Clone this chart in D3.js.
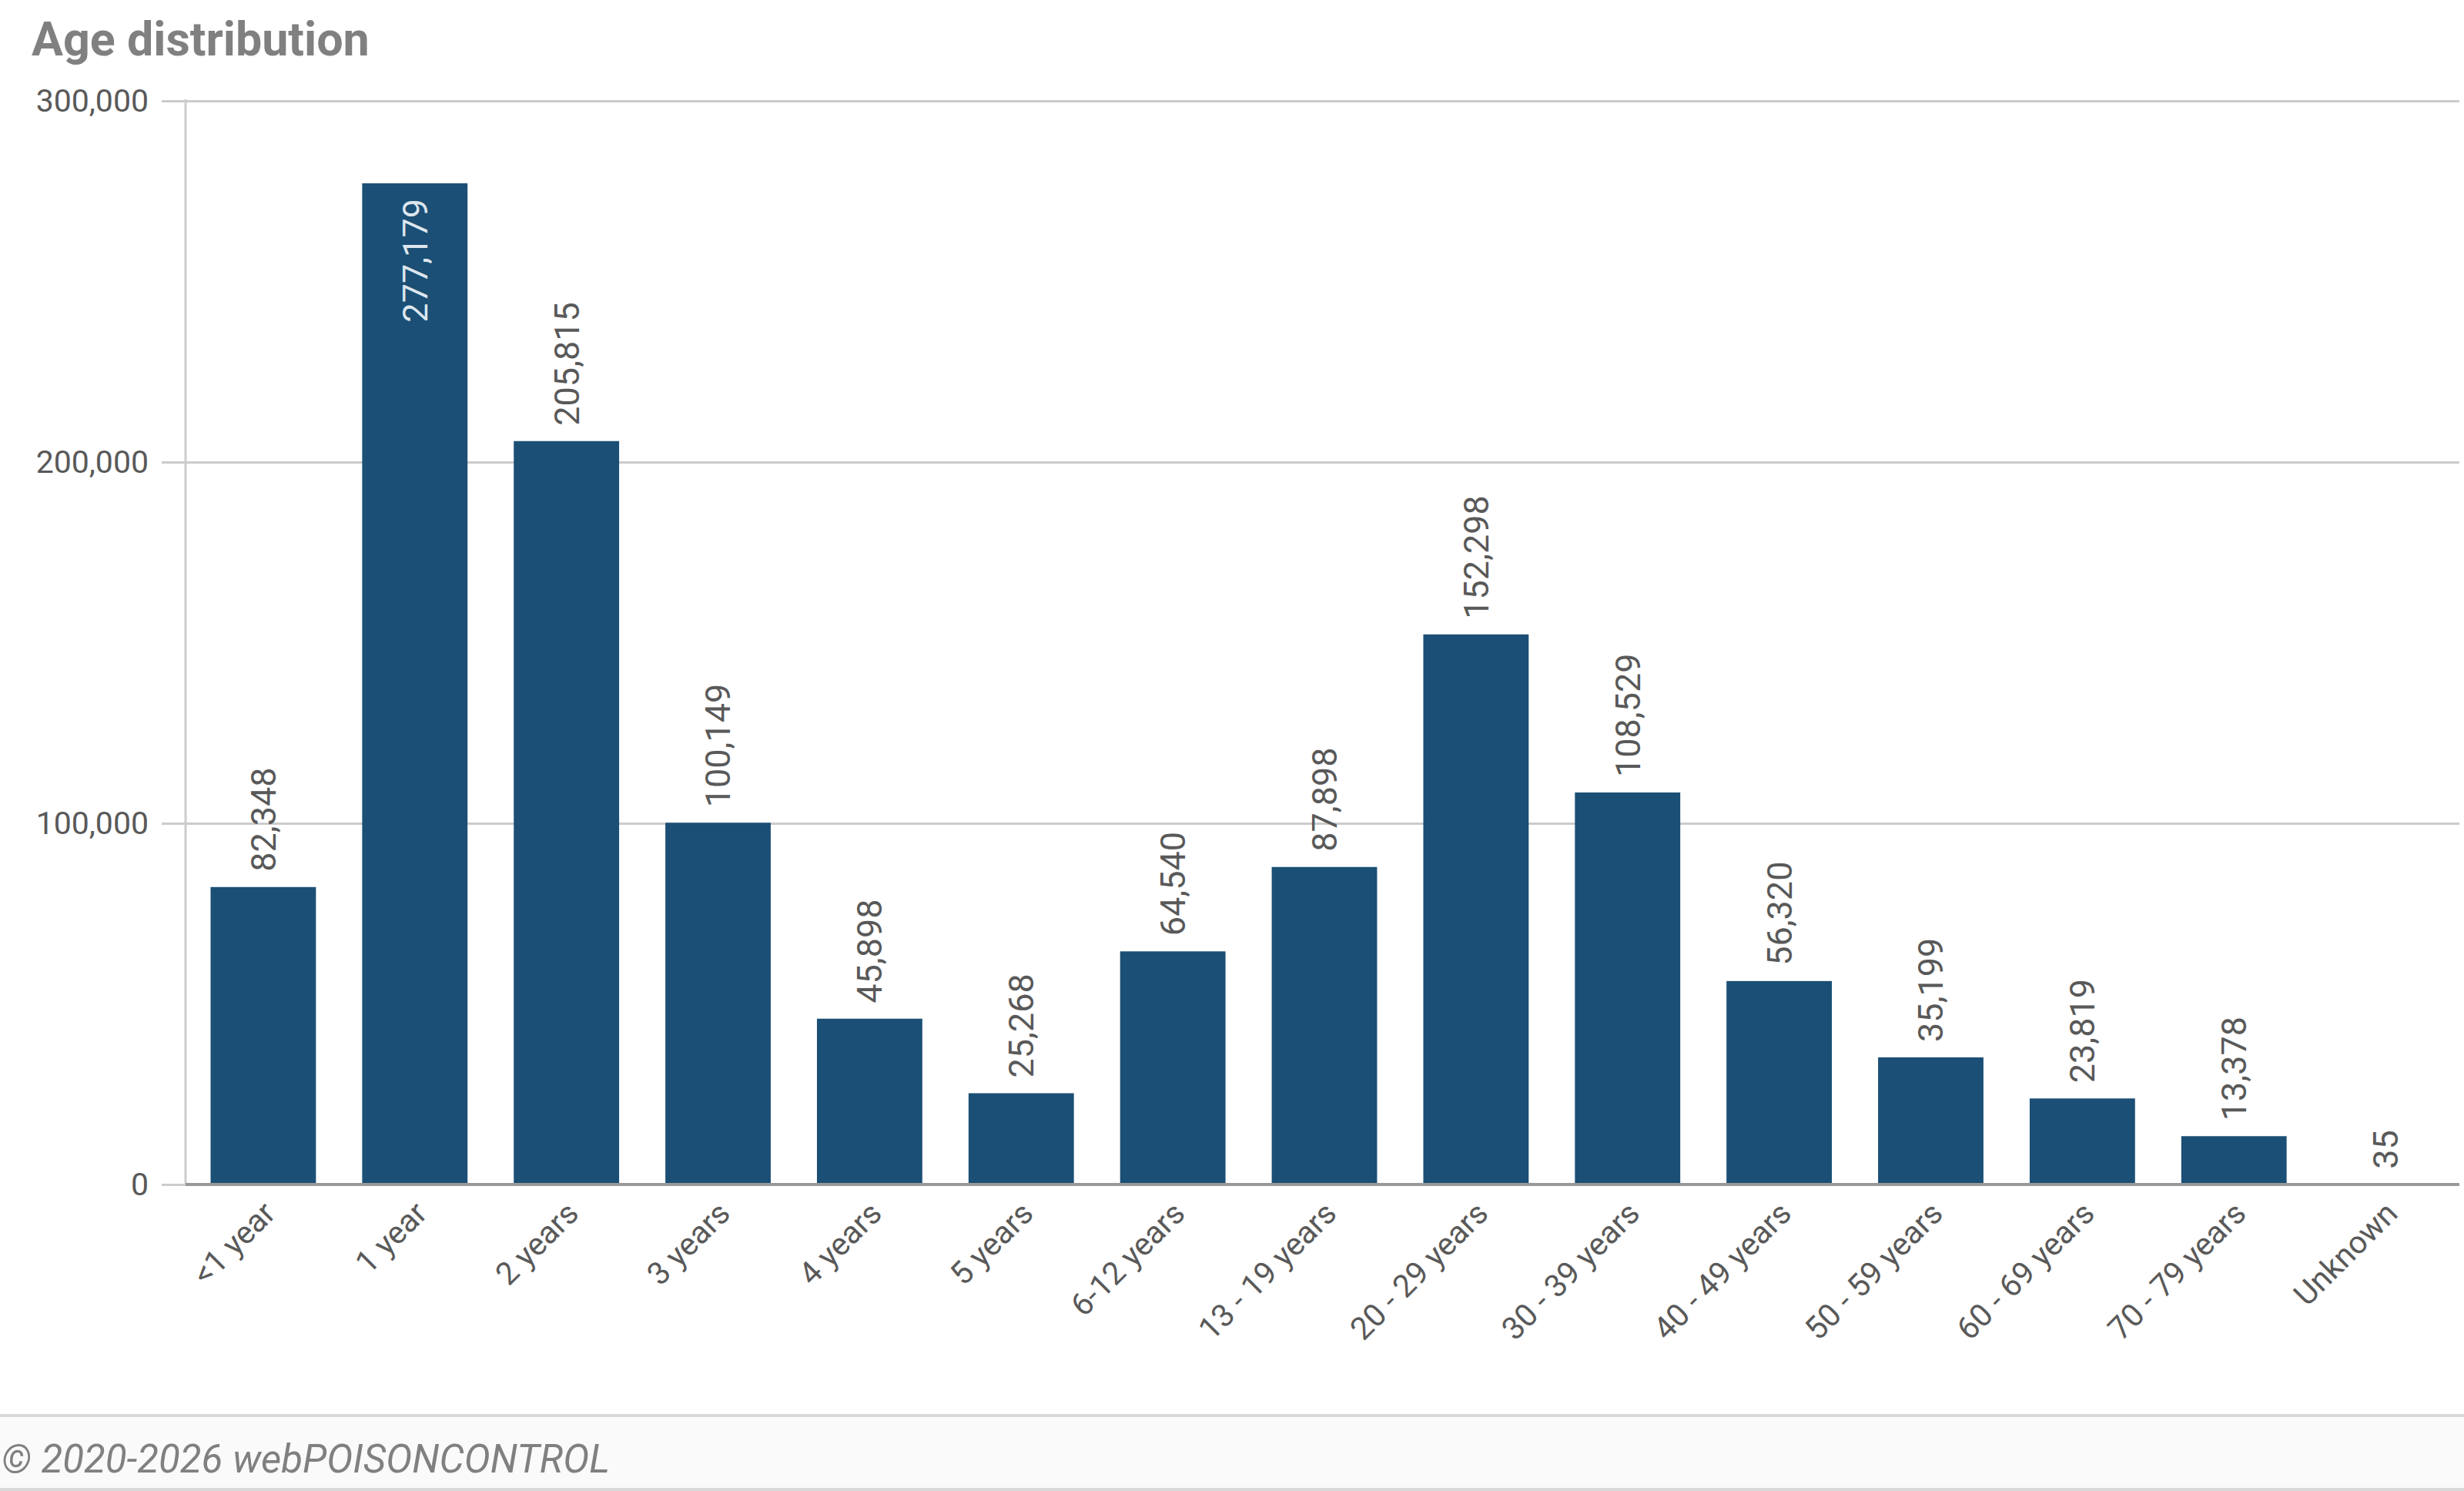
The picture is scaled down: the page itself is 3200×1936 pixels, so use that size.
<!DOCTYPE html>
<html>
<head>
<meta charset="utf-8">
<script src="https://cdn.jsdelivr.net/npm/d3@7"></script>
<style>
  html, body { margin: 0; padding: 0; background: #ffffff; }
  svg { display: block; }
  text { font-family: Roboto, "Noto Sans", sans-serif; }
</style>
</head>
<body>
<svg id="chart" width="3200" height="1936"></svg>
<script>
const categories = ["<1 year", "1 year", "2 years", "3 years", "4 years", "5 years", "6-12 years",
  "13 - 19 years", "20 - 29 years", "30 - 39 years", "40 - 49 years", "50 - 59 years",
  "60 - 69 years", "70 - 79 years", "Unknown"];
const values = [82348, 277179, 205815, 100149, 45898, 25268, 64540, 87898, 152298, 108529,
  56320, 35199, 23819, 13378, 35];
const yTicks = [0, 100000, 200000, 300000];
const titleText = "Age distribution";
const footerText = "© 2020-2026 webPOISONCONTROL";

const W = 3200, H = 1936;
const plotLeft = 241, plotRight = 3194, plotTop = 131, plotBottom = 1538;
const barColor = "#1b4f75";
const textGray = "#595959";

const svg = d3.select("#chart");

const x = d3.scaleBand().domain(categories).range([plotLeft, 3199])
  .paddingInner(0.305).paddingOuter(0.165);
const y = d3.scaleLinear().domain([0, 300000]).range([plotBottom, plotTop]);

// Title
svg.append("text").attr("x", 41).attr("y", 72)
  .attr("font-size", 61).attr("font-weight", 700).attr("fill", "#808080")
  .text(titleText);

// Y axis with gridlines
const yAxis = d3.axisLeft(y).tickValues(yTicks)
  .tickFormat(d3.format(","))
  .tickSizeInner(-(plotRight - 210)).tickSizeOuter(0).tickPadding(17);
const gy = svg.append("g").attr("transform", "translate(210,0)").call(yAxis);
gy.select(".domain").remove();
gy.selectAll(".tick line").attr("stroke", "#cccccc").attr("stroke-width", 3);
gy.selectAll(".tick text").attr("fill", textGray).attr("font-size", 41)
  .attr("font-family", "Roboto, 'Noto Sans', sans-serif");

// vertical axis line
svg.append("line").attr("x1", plotLeft).attr("x2", plotLeft)
  .attr("y1", y(300000) - 2).attr("y2", plotBottom)
  .attr("stroke", "#cccccc").attr("stroke-width", 3);

// Bars
svg.append("g").selectAll("rect").data(values).join("rect")
  .attr("x", (d, i) => x(categories[i]))
  .attr("width", x.bandwidth())
  .attr("y", d => y(d))
  .attr("height", d => Math.max(1, plotBottom - y(d)))
  .attr("fill", barColor);

// baseline
svg.append("line").attr("x1", plotLeft).attr("x2", plotRight)
  .attr("y1", plotBottom).attr("y2", plotBottom)
  .attr("stroke", "#999999").attr("stroke-width", 4);

// Data labels
const fmt = d3.format(",");
const gap = 20;
const lbl = svg.append("g").selectAll("text").data(values).join("text")
  .attr("font-size", 45)
  .attr("dy", "0.355em")
  .text(d => fmt(d));
lbl.each(function(d, i) {
  const t = d3.select(this);
  const len = this.getComputedTextLength();
  const cx = x(categories[i]) + x.bandwidth() / 2;
  const top = y(d);
  if (top - gap - len < plotTop) {
    t.attr("text-anchor", "end").attr("fill", "#dde6ee")
      .attr("transform", `translate(${cx},${top + gap}) rotate(-90)`);
  } else {
    t.attr("text-anchor", "start").attr("fill", textGray)
      .attr("transform", `translate(${cx},${top - gap}) rotate(-90)`);
  }
});

// X labels
svg.append("g").selectAll("text").data(categories).join("text")
  .attr("font-size", 41).attr("fill", textGray)
  .attr("text-anchor", "end")
  .attr("transform", d => `translate(${x(d) + x.bandwidth() / 2 + 18},${plotBottom + 40}) rotate(-45)`)
  .text(d => d);

// Footer
svg.append("rect").attr("x", 0).attr("y", 1836).attr("width", W).attr("height", 4).attr("fill", "#d9d9d9");
svg.append("rect").attr("x", 0).attr("y", 1840).attr("width", W).attr("height", 92).attr("fill", "#fafafa");
svg.append("rect").attr("x", 0).attr("y", 1932).attr("width", W).attr("height", 4).attr("fill", "#d9d9d9");
svg.append("text").attr("x", 2).attr("y", 1912)
  .attr("font-size", 51).attr("font-style", "italic").attr("fill", "#808080")
  .text(footerText);
</script>
</body>
</html>
